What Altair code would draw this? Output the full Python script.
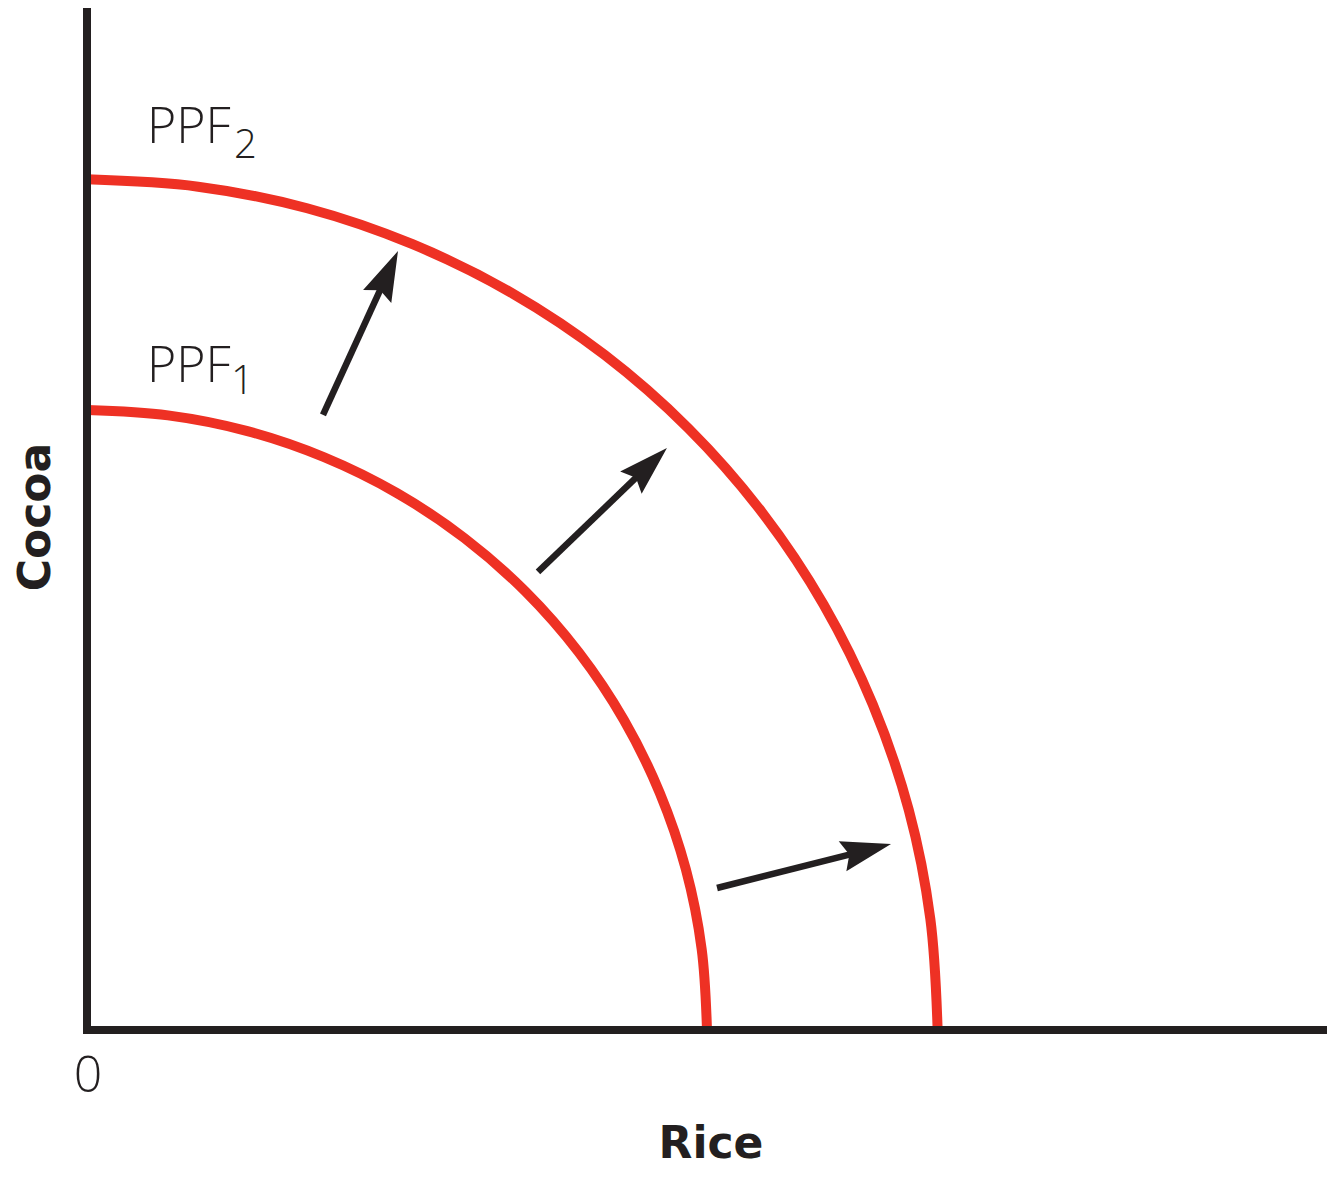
import math
import altair as alt
import pandas as pd

# ---- data (units) ----
ppf1_rice = [0, 6.53, 12.94, 19.13, 25.00, 30.44, 35.36, 39.67, 43.30, 46.19, 48.30, 49.57, 50]
ppf1_cocoa = [50, 49.57, 48.30, 46.19, 43.30, 39.67, 35.36, 30.44, 25.00, 19.13, 12.94, 6.53, 0]

ppf2_rice = [0, 8.96, 17.75, 26.25, 34.30, 41.76, 48.51, 54.43, 59.41, 63.37, 66.27, 68.01, 68.6]
ppf2_cocoa = [68.6, 68.01, 66.27, 63.37, 59.41, 54.43, 48.51, 41.76, 34.30, 26.25, 17.75, 8.96, 0]

arrow_tail_rice = [19.03, 36.37, 50.81]
arrow_tail_cocoa = [49.60, 36.94, 11.45]
arrow_tip_rice = [25.08, 46.77, 64.84]
arrow_tip_cocoa = [62.82, 46.94, 15.00]

label_main = ["PPF", "PPF"]
label_main_x = [4.84, 4.84]
label_main_y = [71.53, 52.26]
label_zero = ["0"]
label_zero_x = [0.08]
label_zero_y = [-5.0]
label_sub = ["2", "1"]
label_sub_x = [11.85, 11.61]
label_sub_y = [70.32, 51.29]
axis_titles = ["Rice", "Cocoa"]
axis_title_x = [50.32, -2.98]
axis_title_y = [-10.32, 41.37]
axis_title_angle = [0, 270]

X_MAX = 100
Y_MAX = 82.42
PX_PER_UNIT = 12.4
RED = "#ee3124"
INK = "#231f20"

xs = alt.Scale(domain=[0, X_MAX], nice=False, zero=False)
ys = alt.Scale(domain=[0, Y_MAX], nice=False, zero=False)

# ---- tables ----
curves = pd.DataFrame(
    [{"curve": "PPF1", "i": i, "rice": r, "cocoa": c} for i, (r, c) in enumerate(zip(ppf1_rice, ppf1_cocoa))]
    + [{"curve": "PPF2", "i": i, "rice": r, "cocoa": c} for i, (r, c) in enumerate(zip(ppf2_rice, ppf2_cocoa))]
)

head_len = 50 / PX_PER_UNIT
rows = []
for tx, ty, px, py in zip(arrow_tail_rice, arrow_tail_cocoa, arrow_tip_rice, arrow_tip_cocoa):
    dx, dy = px - tx, py - ty
    d = math.hypot(dx, dy)
    ux, uy = dx / d, dy / d
    rows.append({
        "x": tx, "y": ty,
        "x2": px - ux * head_len * 0.8, "y2": py - uy * head_len * 0.8,
        "hx": px - ux * head_len / 2, "hy": py - uy * head_len / 2,
        "angle": math.degrees(math.atan2(ux, uy)) % 360,
    })
arrows = pd.DataFrame(rows)

axes_df = pd.DataFrame({
    "x": [0, 0], "y": [0, 0], "x2": [0, X_MAX], "y2": [Y_MAX, 0]
})

main_df = pd.DataFrame({"t": label_main, "x": label_main_x, "y": label_main_y})
zero_df = pd.DataFrame({"t": label_zero, "x": label_zero_x, "y": label_zero_y})
sub_df = pd.DataFrame({"t": label_sub, "x": label_sub_x, "y": label_sub_y})
title_df = pd.DataFrame({"t": axis_titles, "x": axis_title_x, "y": axis_title_y, "a": axis_title_angle})

X = lambda f: alt.X(f, scale=xs, axis=None)
Y = lambda f: alt.Y(f, scale=ys, axis=None)

# ---- layers ----
curve_layer = alt.Chart(curves).mark_line(
    color=RED, strokeWidth=10, interpolate="catmull-rom", strokeCap="butt"
).encode(
    x=X("rice:Q"),
    y=Y("cocoa:Q"),
    detail="curve:N",
    order=alt.Order("i:Q"),
)

shaft_layer = alt.Chart(arrows).mark_rule(color=INK, strokeWidth=6.5, strokeCap="butt").encode(
    x=X("x:Q"), y=Y("y:Q"), x2="x2:Q", y2="y2:Q",
)

head_layer = alt.Chart(arrows).mark_point(
    shape="M0,-1L0.62,1L0,0.72L-0.62,1Z",
    filled=True, fill=INK, opacity=1, size=2500, strokeWidth=0,
).encode(
    x=X("hx:Q"), y=Y("hy:Q"),
    angle=alt.Angle("angle:Q", scale=None),
)

axis_layer = alt.Chart(axes_df).mark_rule(color=INK, strokeWidth=8, strokeCap="square").encode(
    x=X("x:Q"), y=Y("y:Q"), x2="x2:Q", y2="y2:Q",
)

main_text = alt.Chart(main_df).mark_text(
    font="Open Sans", fontWeight=300, fontSize=50, color=INK, align="left", baseline="alphabetic"
).encode(x=X("x:Q"), y=Y("y:Q"), text="t:N")

zero_text = alt.Chart(zero_df).mark_text(
    font="Open Sans", fontWeight=300, fontSize=50, color=INK, align="center", baseline="alphabetic"
).encode(x=X("x:Q"), y=Y("y:Q"), text="t:N")

sub_text = alt.Chart(sub_df).mark_text(
    font="Open Sans", fontWeight=300, fontSize=40, color=INK, align="left", baseline="alphabetic"
).encode(x=X("x:Q"), y=Y("y:Q"), text="t:N")

title_text = alt.Chart(title_df).mark_text(
    font="DejaVu Sans", fontWeight="bold", fontSize=44, color=INK, align="center", baseline="alphabetic"
).encode(
    x=X("x:Q"), y=Y("y:Q"), text="t:N",
    angle=alt.Angle("a:Q", scale=None),
)

chart = alt.layer(
    curve_layer, shaft_layer, head_layer, axis_layer, main_text, zero_text, sub_text, title_text
).properties(
    width=1240,
    height=1022,
    padding={"left": 79, "top": 0, "right": 0, "bottom": 139},
    autosize=alt.AutoSizeParams(type="none"),
    background="white",
).configure_view(stroke=None)

chart.save("out.html", embed_options={"renderer": "svg", "actions": False})
